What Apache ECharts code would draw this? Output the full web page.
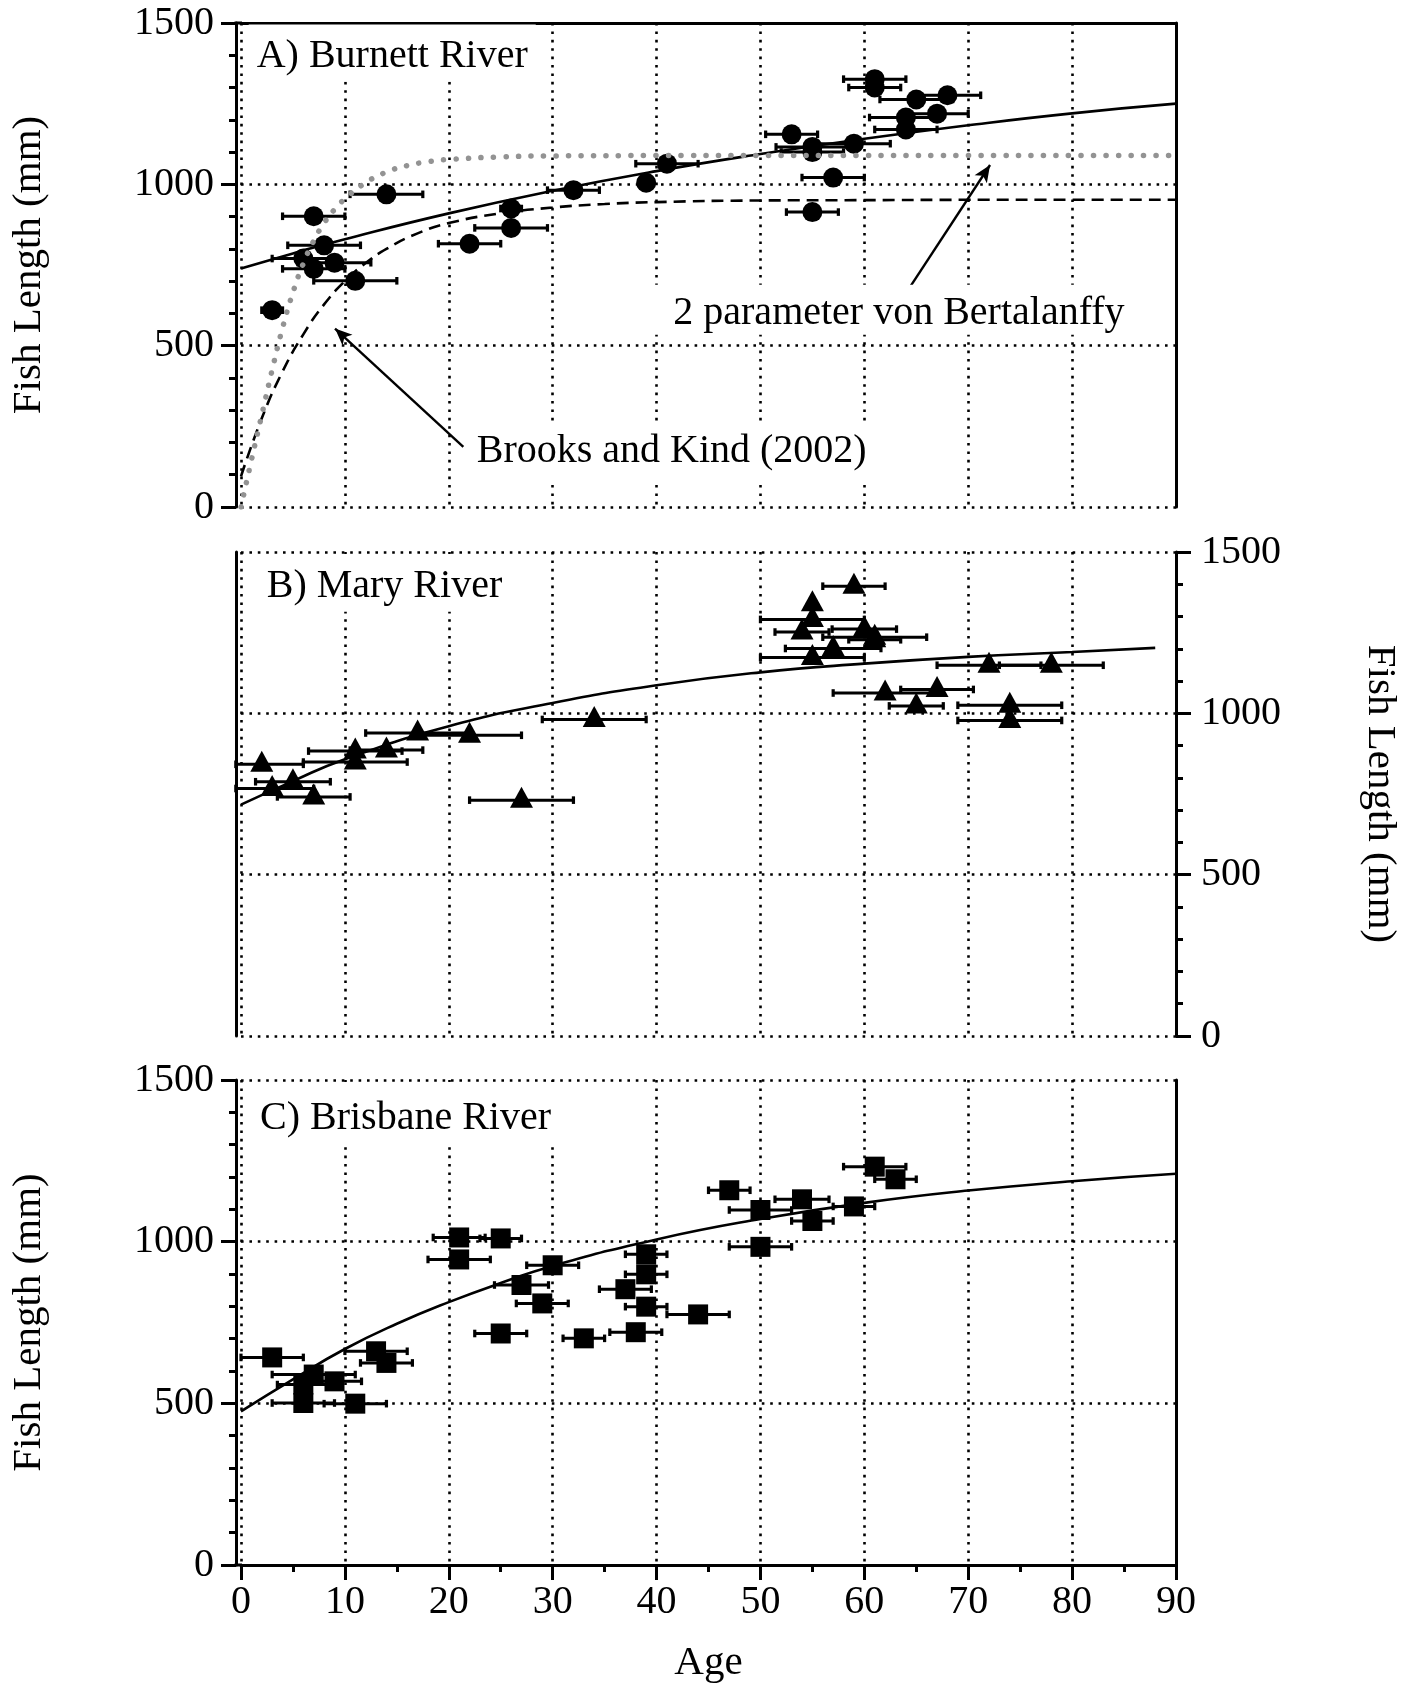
<!DOCTYPE html>
<html>
<head>
<meta charset="utf-8">
<script src="https://cdn.jsdelivr.net/npm/echarts@6/dist/echarts.min.js"></script>
<style>
  html, body { margin: 0; padding: 0; background: #ffffff; }
  #chart { width: 1416px; height: 1686px; }
</style>
</head>
<body>
<div id="chart"></div>
<script>
// ---- Axis ticks ----
const AGE_TICKS = [0, 10, 20, 30, 40, 50, 60, 70, 80, 90];
const LENGTH_TICKS = [0, 500, 1000, 1500];

// ---- Observations: [age (years), fish length (mm), age uncertainty (± years)] ----
const burnettFish = [
  [3, 610, 1], [6, 770, 3], [7, 901, 3], [7, 738, 3], [8, 811, 3.5], [9, 757, 3.5],
  [11, 701, 4], [14, 969, 3.5], [22, 816, 3], [26, 925, 1], [26, 865, 3.5], [32, 982, 2.5],
  [39, 1005, 0], [41, 1064, 3], [53, 1155, 2.5], [55, 1116, 3.5], [55, 1100, 3], [55, 914, 2.5],
  [57, 1021, 3], [59, 1126, 3.5], [61, 1326, 3], [61, 1300, 2.5], [64, 1207, 3.5], [64, 1170, 3],
  [65, 1263, 3.5], [67, 1219, 3], [68, 1276, 3.2]
];
const maryFish = [
  [2, 842, 4], [3, 767, 4], [5, 788, 3.6], [7, 741, 3.5], [11, 849, 5], [11, 883, 4.5],
  [14, 886, 3.5], [17, 939, 5], [22, 932, 5], [27, 731, 5], [34, 981, 5],
  [54, 1252, 2.6], [55, 1340, 0], [55, 1291, 5], [55, 1173, 5], [57, 1201, 4.6], [59, 1394, 3],
  [60, 1261, 3.1], [61, 1236, 5], [61, 1228, 2.5], [62, 1063, 5], [65, 1023, 2.6], [67, 1074, 3.5],
  [72, 1149, 5], [74, 1025, 5], [74, 978, 5], [78, 1149, 5]
];
const brisbaneFish = [
  [3, 642, 3], [6, 558, 2.5], [6, 501, 3], [7, 589, 4], [9, 568, 2.6], [11, 499, 3],
  [13, 661, 3], [14, 625, 2.5], [21, 1013, 2.5], [21, 945, 3], [25, 1010, 2], [25, 716, 2.5],
  [27, 866, 2.6], [29, 809, 2.5], [30, 927, 2.5], [33, 701, 2], [37, 853, 2.5], [38, 720, 2.5],
  [39, 961, 2], [39, 899, 2], [39, 799, 2], [44, 775, 3], [47, 1159, 2], [50, 1098, 3],
  [50, 984, 3], [54, 1131, 2.6], [55, 1064, 2], [59, 1109, 2], [61, 1232, 3], [63, 1193, 2]
];

// ---- Growth curves ----
const burnettFitAge = [0, 5, 10, 20, 30, 40, 50, 60, 70, 80, 90];
const burnettFitLength = [739, 786, 830, 910, 980, 1041, 1094, 1141, 1183, 1220, 1250];

const twoParamAge = [0, 1, 2, 3, 4, 5, 6, 7, 8, 9, 10, 12, 14, 16, 18, 20, 25, 30, 40, 50, 60, 70, 80, 90];
const twoParamLength = [0, 145, 285, 425, 555, 665, 755, 825, 880, 922, 955, 1005, 1038, 1058, 1070, 1077,
  1085, 1088, 1089, 1089, 1089, 1089, 1089, 1089];

const brooksKindAge = [0, 2, 4, 6, 8, 10, 12, 14, 17, 20, 25, 30, 35, 40, 50, 60, 70, 80, 90];
const brooksKindLength = [95, 275, 420, 535, 628, 700, 756, 800, 848, 880, 910, 928, 939, 945, 950, 951, 952, 952, 952];

const maryFitAge = [0, 5, 10, 20, 30, 40, 50, 60, 70, 80, 88];
const maryFitLength = [717, 790, 858, 960, 1032, 1087, 1127, 1154, 1175, 1190, 1203];

const brisbaneFitAge = [0, 5, 10, 15, 20, 25, 30, 40, 50, 60, 70, 80, 90];
const brisbaneFitLength = [475, 574, 668, 746, 813, 872, 925, 1007, 1070, 1120, 1158, 1187, 1210];

// ---- Annotation arrows, [tail, head] in (age, length) ----
const arrowTwoParam = [[64.2, 672], [72.1, 1060]];
const arrowBrooksKind = [[21.4, 186], [9.05, 553]];

// ---- Layout ----
const FONT = '"Liberation Serif", "Times New Roman", serif';
const BLACK = '#000000';
const GREY = '#939393';
const GRID_LEFT = 241;
const GRID_WIDTH = 935;
const PANEL_TOP = [23, 552, 1080];
const PANEL_HEIGHT = [484, 484, 485];
const Y_SHIFT = 5;            // left axis line sits a little outside age 0
const AXIS_W = 3;

const zip = (xs, ys) => xs.map((x, i) => [x, ys[i]]);
const plain = v => String(v);
const dotted = { color: BLACK, width: 2.6, type: [2.6, 5.8] };
const labelStyle = { fontFamily: FONT, fontSize: 40, color: BLACK, formatter: plain };
const nameStyle = { fontFamily: FONT, fontSize: 41, color: BLACK };
const solidAxis = { show: true, onZero: false, lineStyle: { color: BLACK, width: AXIS_W } };
const noAxisLine = { show: false, onZero: false };
const majorTick = { show: true, inside: false, length: 15, lineStyle: { color: BLACK, width: AXIS_W } };

function ageAxis(gridIndex, extra) {
  return Object.assign({
    type: 'value', gridIndex,
    min: AGE_TICKS[0], max: AGE_TICKS[AGE_TICKS.length - 1], interval: AGE_TICKS[1] - AGE_TICKS[0],
    axisLine: noAxisLine, axisTick: { show: false }, axisLabel: { show: false },
    splitLine: { show: false }, minorTick: { show: false }, minorSplitLine: { show: false },
    nameMoveOverlap: false
  }, extra);
}
function lengthAxis(gridIndex, extra) {
  return Object.assign({
    type: 'value', gridIndex,
    min: LENGTH_TICKS[0], max: LENGTH_TICKS[LENGTH_TICKS.length - 1], interval: LENGTH_TICKS[1] - LENGTH_TICKS[0],
    axisLine: noAxisLine, axisTick: { show: false }, axisLabel: { show: false },
    splitLine: { show: false }, minorTick: { show: false }, minorSplitLine: { show: false },
    nameMoveOverlap: false
  }, extra);
}
const lengthMinor = { show: true, splitNumber: 5, length: 7, lineStyle: { color: BLACK, width: AXIS_W } };

function errorBars(data, xAxisIndex, yAxisIndex) {
  return {
    type: 'custom', xAxisIndex, yAxisIndex, data, z: 3, silent: true,
    renderItem(params, api) {
      const age = api.value(0), len = api.value(1), err = api.value(2);
      if (!err) return null;
      const a = api.coord([Math.max(age - err, -0.5), len]);
      const b = api.coord([age + err, len]);
      const capH = 3.8;
      const cap = { stroke: BLACK, lineWidth: 3.2 };
      return {
        type: 'group',
        children: [
          { type: 'line', shape: { x1: a[0], y1: a[1], x2: b[0], y2: b[1] }, style: { stroke: BLACK, lineWidth: 3 } },
          { type: 'line', shape: { x1: a[0], y1: a[1] - capH, x2: a[0], y2: a[1] + capH }, style: cap },
          { type: 'line', shape: { x1: b[0], y1: b[1] - capH, x2: b[0], y2: b[1] + capH }, style: cap }
        ]
      };
    }
  };
}
function markers(data, xAxisIndex, yAxisIndex, symbol, size, offset) {
  return {
    type: 'scatter', xAxisIndex, yAxisIndex, silent: true, z: 4,
    data: data.map(d => [d[0], d[1]]),
    symbol, symbolSize: size, symbolOffset: offset || [0, 0],
    itemStyle: { color: BLACK, opacity: 1, borderWidth: 0 }
  };
}
function curve(xs, ys, xAxisIndex, yAxisIndex, lineStyle, z, extra) {
  return Object.assign({
    type: 'line', xAxisIndex, yAxisIndex, data: zip(xs, ys), silent: true,
    showSymbol: false, symbol: 'none', smooth: 0.5, z,
    lineStyle: Object.assign({ opacity: 1 }, lineStyle)
  }, extra);
}
function arrow(points) {
  return {
    silent: true, symbol: ['none', 'arrow'], symbolSize: [11, 17],
    label: { show: false }, emphasis: { disabled: true },
    lineStyle: { color: BLACK, width: 2.4, type: 'solid', opacity: 1 },
    itemStyle: { color: BLACK },
    data: [[{ coord: points[0] }, { coord: points[1] }]]
  };
}
function caption(text, left, top, pad) {
  return {
    type: 'text', x: left - pad[3], y: top, z: 50, silent: true,
    style: {
      text, fontFamily: FONT, fontSize: 40, lineHeight: 40, fill: BLACK,
      align: 'left', verticalAlign: 'top',
      backgroundColor: '#ffffff', padding: pad
    }
  };
}

const chart = echarts.init(document.getElementById('chart'), null, { renderer: 'canvas' });

chart.setOption({
  animation: false,
  backgroundColor: '#ffffff',
  grid: PANEL_TOP.map((top, i) => ({
    left: GRID_LEFT, top, width: GRID_WIDTH, height: PANEL_HEIGHT[i],
    containLabel: false, outerBoundsMode: 'none', show: false
  })),
  xAxis: [
    // A) Burnett River
    ageAxis(0, { position: 'bottom', splitLine: { show: true, lineStyle: dotted } }),
    ageAxis(0, { position: 'top', axisLine: solidAxis }),
    // B) Mary River
    ageAxis(1, { position: 'bottom', splitLine: { show: true, lineStyle: dotted } }),
    // C) Brisbane River
    ageAxis(2, {
      position: 'bottom', axisLine: solidAxis, axisTick: majorTick,
      minorTick: { show: true, splitNumber: 2, length: 7, lineStyle: { color: BLACK, width: AXIS_W } },
      axisLabel: Object.assign({ show: true, margin: 17 }, labelStyle),
      splitLine: { show: true, lineStyle: dotted },
      name: 'Age', nameLocation: 'middle', nameGap: 78, nameTextStyle: nameStyle
    })
  ],
  yAxis: [
    lengthAxis(0, {
      position: 'left', offset: Y_SHIFT, axisLine: solidAxis, axisTick: majorTick, minorTick: lengthMinor,
      axisLabel: Object.assign({ show: true, margin: 22 }, labelStyle),
      splitLine: { show: true, lineStyle: dotted },
      name: 'Fish Length (mm)', nameLocation: 'middle', nameRotate: 90, nameGap: 186, nameTextStyle: nameStyle
    }),
    lengthAxis(0, { position: 'right', axisLine: solidAxis }),
    lengthAxis(1, {
      position: 'left', offset: Y_SHIFT, axisLine: solidAxis,
      splitLine: { show: true, lineStyle: dotted }
    }),
    lengthAxis(1, {
      position: 'right', axisLine: solidAxis, axisTick: majorTick, minorTick: lengthMinor,
      axisLabel: Object.assign({ show: true, margin: 25 }, labelStyle),
      name: 'Fish Length (mm)', nameLocation: 'middle', nameRotate: -90, nameGap: 183, nameTextStyle: nameStyle
    }),
    lengthAxis(2, {
      position: 'left', offset: Y_SHIFT, axisLine: solidAxis, axisTick: majorTick, minorTick: lengthMinor,
      axisLabel: Object.assign({ show: true, margin: 22 }, labelStyle),
      splitLine: { show: true, lineStyle: dotted },
      name: 'Fish Length (mm)', nameLocation: 'middle', nameRotate: 90, nameGap: 186, nameTextStyle: nameStyle
    }),
    lengthAxis(2, { position: 'right', axisLine: solidAxis })
  ],
  series: [
    // A) Burnett River
    curve(burnettFitAge, burnettFitLength, 0, 0, { color: BLACK, width: 2.6 }, 3),
    curve(brooksKindAge, brooksKindLength, 0, 0, { color: BLACK, width: 2.6, type: [12, 7] }, 3,
      { markLine: arrow(arrowBrooksKind) }),
    errorBars(burnettFish, 0, 0),
    markers(burnettFish, 0, 0, 'circle', 20),
    curve(twoParamAge, twoParamLength, 0, 0, { color: GREY, width: 5.5, type: [0.1, 12.4], cap: 'round' }, 5,
      { markLine: arrow(arrowTwoParam) }),
    // B) Mary River
    curve(maryFitAge, maryFitLength, 2, 2, { color: BLACK, width: 2.6 }, 3),
    errorBars(maryFish, 2, 2),
    markers(maryFish, 2, 2, 'triangle', [23, 21], [0, -3]),
    // C) Brisbane River
    curve(brisbaneFitAge, brisbaneFitLength, 3, 4, { color: BLACK, width: 2.6 }, 3),
    errorBars(brisbaneFish, 3, 4),
    markers(brisbaneFish, 3, 4, 'rect', 20)
  ],
  graphic: [
    caption('A) Burnett River', 256.7, 24.5, [12.2, 8, 5, 8]),
    caption('B) Mary River', 266.7, 554, [12.7, 8, 5, 8]),
    caption('C) Brisbane River', 260, 1082, [16.3, 8, 8.5, 8]),
    caption('2 parameter von Bertalanffy', 673.3, 284.8, [8.5, 18, 1.5, 20]),
    caption('Brooks and Kind (2002)', 476.7, 421.7, [10, 10, 8.5, 10]),
    // close the frame corners where the shifted left axis meets the top / bottom lines
    { type: 'line', z: 60, silent: true,
      shape: { x1: GRID_LEFT - Y_SHIFT - AXIS_W / 2, y1: PANEL_TOP[0], x2: GRID_LEFT + 1, y2: PANEL_TOP[0] },
      style: { stroke: BLACK, lineWidth: AXIS_W } },
    { type: 'line', z: 60, silent: true,
      shape: { x1: GRID_LEFT - Y_SHIFT - AXIS_W / 2, y1: PANEL_TOP[2] + PANEL_HEIGHT[2],
               x2: GRID_LEFT + 1, y2: PANEL_TOP[2] + PANEL_HEIGHT[2] },
      style: { stroke: BLACK, lineWidth: AXIS_W } }
  ]
});
</script>
</body>
</html>
